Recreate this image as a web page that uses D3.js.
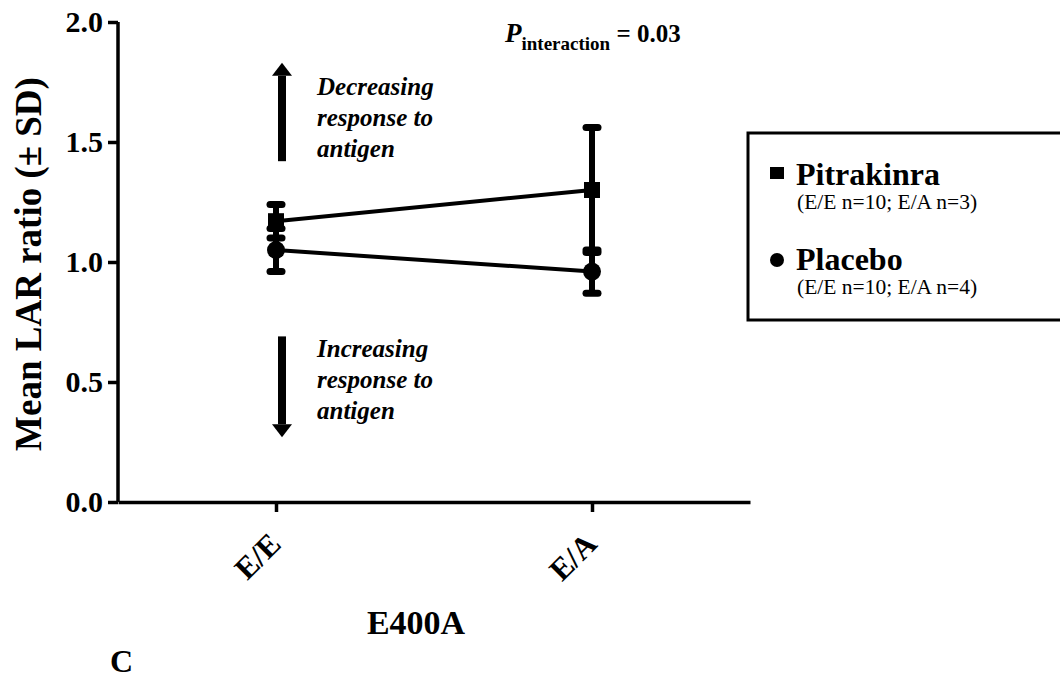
<!DOCTYPE html>
<html>
<head>
<meta charset="utf-8">
<script src="https://cdn.jsdelivr.net/npm/d3@7"></script>
<style>
  body { margin: 0; background: #fff; }
  text, tspan { font-family: "Liberation Serif", "Times New Roman", serif; }
</style>
</head>
<body>
<div id="chart"></div>
<script>
// data
const categories = ["E/E", "E/A"];
const pitrakinraMean = [1.17, 1.30];
const pitrakinraSD = [0.07, 0.26];
const placeboMean = [1.05, 0.96];
const placeboSD = [0.09, 0.09];
const yTicks = [0, 0.5, 1.0, 1.5, 2.0];

const width = 1060, height = 700;
const serif = '"Liberation Serif", "Times New Roman", serif';

const svg = d3.select("#chart").append("svg")
    .attr("width", width)
    .attr("height", height);

const x = d3.scalePoint().domain(categories).range([118, 750]).padding(0.5);
const y = d3.scaleLinear().domain([0, 2]).range([502, 22]);

// axes
const yAxis = svg.append("g")
    .attr("transform", "translate(118,0)")
    .call(d3.axisLeft(y).tickValues(yTicks).tickFormat(d3.format(".1f")).tickSize(10).tickPadding(5));
yAxis.attr("font-family", serif);
yAxis.select(".domain").attr("stroke-width", 3.5).attr("d", `M0,${y(2)}V${y(0)}`);
yAxis.selectAll(".tick line").attr("stroke-width", 3.5);
yAxis.selectAll(".tick text")
    .attr("font-size", 30).attr("font-weight", "bold");

const xAxis = svg.append("g")
    .attr("transform", `translate(0,${y(0)})`)
    .call(d3.axisBottom(x).tickSize(10).tickSizeOuter(0));
xAxis.attr("font-family", serif);
xAxis.select(".domain").attr("stroke-width", 3.5);
xAxis.selectAll(".tick line").attr("stroke-width", 3.5);
xAxis.selectAll(".tick text")
    .attr("font-size", 31).attr("font-weight", "bold")
    .attr("text-anchor", "end")
    .attr("dy", null).attr("y", null)
    .attr("transform", "translate(6,44) rotate(-45)");

// axis titles
svg.append("text")
    .attr("transform", `translate(41,${(y(2) + y(0)) / 2 + 2}) rotate(-90)`)
    .attr("text-anchor", "middle")
    .attr("font-size", 37).attr("font-weight", "bold")
    .text("Mean LAR ratio (\u00b1 SD)");

svg.append("text")
    .attr("x", 416).attr("y", 634)
    .attr("text-anchor", "middle")
    .attr("font-size", 34).attr("font-weight", "bold")
    .text("E400A");

svg.append("text")
    .attr("x", 110).attr("y", 672)
    .attr("font-size", 32).attr("font-weight", "bold")
    .text("C");

// series
const series = [
    { name: "pitrakinra", mean: pitrakinraMean, sd: pitrakinraSD, shape: "square" },
    { name: "placebo", mean: placeboMean, sd: placeboSD, shape: "circle" }
];

const line = d3.line()
    .x((d, i) => x(categories[i]))
    .y(d => y(d));

series.forEach(s => {
    const g = svg.append("g").attr("class", s.name);

    g.append("path")
        .attr("d", line(s.mean))
        .attr("fill", "none")
        .attr("stroke", "#000")
        .attr("stroke-width", 4);

    const pts = s.mean.map((m, i) => ({ cat: categories[i], m: m, sd: s.sd[i] }));

    g.selectAll(".bar").data(pts).join("line")
        .attr("x1", d => x(d.cat)).attr("x2", d => x(d.cat))
        .attr("y1", d => y(d.m - d.sd)).attr("y2", d => y(d.m + d.sd))
        .attr("stroke", "#000").attr("stroke-width", 6);

    pts.forEach(d => {
        [d.m - d.sd, d.m + d.sd].forEach(v => {
            g.append("line")
                .attr("x1", x(d.cat) - 6).attr("x2", x(d.cat) + 6)
                .attr("y1", y(v)).attr("y2", y(v))
                .attr("stroke", "#000").attr("stroke-width", 7)
                .attr("stroke-linecap", "round");
        });
    });

    if (s.shape === "square") {
        g.selectAll(".pt").data(pts).join("rect")
            .attr("x", d => x(d.cat) - 8).attr("y", d => y(d.m) - 8)
            .attr("width", 16).attr("height", 16)
            .attr("fill", "#000");
    } else {
        g.selectAll(".pt").data(pts).join("circle")
            .attr("cx", d => x(d.cat)).attr("cy", d => y(d.m))
            .attr("r", 9)
            .attr("fill", "#000");
    }
});

// direction arrows and notes
const arrows = [
    { from: 1.42, to: 1.83, lines: ["Decreasing", "response to", "antigen"], y0: 95 },
    { from: 0.69, to: 0.27, lines: ["Increasing", "response to", "antigen"], y0: 357 }
];
const ax = x("E/E") + 6;

arrows.forEach(a => {
    const up = a.to > a.from;
    const tip = y(a.to);
    const base = tip + (up ? 13 : -13);
    svg.append("line")
        .attr("x1", ax).attr("x2", ax)
        .attr("y1", y(a.from)).attr("y2", base)
        .attr("stroke", "#000").attr("stroke-width", 8);
    svg.append("path")
        .attr("d", `M${ax - 10},${base}L${ax + 10},${base}L${ax},${tip}Z`)
        .attr("fill", "#000");
    const t = svg.append("text")
        .attr("x", 317).attr("y", a.y0)
        .attr("font-size", 25).attr("font-weight", "bold").attr("font-style", "italic");
    a.lines.forEach((l, i) => {
        t.append("tspan").attr("x", 317).attr("dy", i === 0 ? 0 : 31).text(l);
    });
});

// p value
const p = svg.append("text")
    .attr("x", 505).attr("y", 42)
    .attr("font-weight", "bold");
p.append("tspan").attr("font-size", 27).attr("font-style", "italic").text("P");
p.append("tspan").attr("font-size", 19).attr("dy", 8).text("interaction");
p.append("tspan").attr("font-size", 25).attr("dy", -8).text(" = 0.03");

// legend
const legendNames = ["Pitrakinra", "Placebo"];
const legendNotes = ["(E/E n=10; E/A n=3)", "(E/E n=10; E/A n=4)"];
const legendBase = [185, 270];

const lg = svg.append("g");
lg.append("rect")
    .attr("x", 748).attr("y", 133)
    .attr("width", 330).attr("height", 187)
    .attr("fill", "none").attr("stroke", "#000").attr("stroke-width", 3);

legendNames.forEach((name, i) => {
    const by = legendBase[i];
    if (i === 0) {
        lg.append("rect").attr("x", 770).attr("y", by - 18).attr("width", 14).attr("height", 12).attr("fill", "#000");
    } else {
        lg.append("circle").attr("cx", 777).attr("cy", by - 10).attr("r", 7).attr("fill", "#000");
    }
    lg.append("text")
        .attr("x", 796).attr("y", by)
        .attr("font-size", 32).attr("font-weight", "bold")
        .text(name);
    lg.append("text")
        .attr("x", 797).attr("y", by + 24)
        .attr("font-size", 21.5)
        .text(legendNotes[i]);
});

svg.selectAll("text, tspan").style("font-family", serif);
</script>
</body>
</html>
